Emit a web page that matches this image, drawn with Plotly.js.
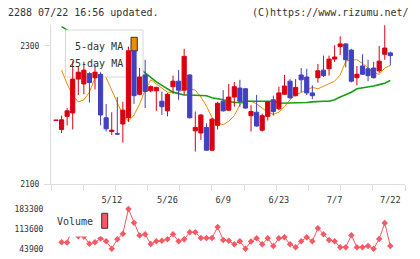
<!DOCTYPE html>
<html><head><meta charset="utf-8">
<script src="https://cdn.plot.ly/plotly-3.0.1.min.js"></script>
<style>html,body{margin:0;padding:0;background:#fff}#chart{width:420px;height:259px}</style>
</head><body><div id="chart"></div>
<script>
const dates = ['4/23','4/24','4/25','4/28','4/30','5/1','5/2','5/7','5/8','5/9','5/12','5/13','5/14','5/15','5/16','5/19','5/20','5/21','5/22','5/23','5/26','5/27','5/28','5/29','5/30','6/2','6/3','6/4','6/5','6/6','6/9','6/10','6/11','6/12','6/13','6/16','6/17','6/18','6/19','6/20','6/23','6/24','6/25','6/26','6/27','6/30','7/1','7/2','7/3','7/4','7/7','7/8','7/9','7/10','7/11','7/14','7/15','7/16','7/17','7/18','7/22'];
const openP = [2192,2179,2198,2203,2252,2245,2260,2254,2259,2196,2176,2172.8,2187,2196,2293,2230,2258,2235,2235,2220,2206,2241,2249,2236,2258,2177,2174,2182,2149,2185,2220,2207,2226,2239,2238,2199,2204,2178,2198,2222,2209,2230,2249,2228,2258,2255,2232,2254,2265,2267,2281,2299,2303,2294,2254,2271,2267,2268,2264,2288,2290];
const highP = [2192.5,2199,2210,2278,2271,2277,2262,2272,2262,2216,2204,2226,2219,2299,2294,2268,2280,2243,2241,2234,2232,2257,2265,2296,2259,2205,2201,2188,2196,2219,2236,2245,2248,2251,2239,2214,2229,2202,2220,2228,2241,2258,2252,2252,2268,2267,2243,2274,2286,2286,2301,2314,2304,2296,2271,2288,2280,2277,2300,2330,2292];
const lowP = [2192,2174,2185,2179,2229,2230,2218,2237,2185,2176,2171,2172,2160,2190,2216,2229,2210,2233,2206,2200,2198,2231,2222,2229,2195,2147,2164,2148,2148,2179,2205,2206,2212,2212,2209,2176,2183,2176,2192,2199,2207,2229,2223,2227,2233,2229,2223,2247,2255,2257,2277,2287,2269,2247,2243,2258,2249,2253,2261,2280,2272];
const closeP = [2192.5,2193,2206,2252,2262,2265,2247,2262,2200,2180,2178,2172.4,2207,2293,2228,2255,2234,2241,2240,2212,2230,2249,2236,2285,2196,2182,2200,2149,2194,2217,2206,2226,2241,2220,2210,2205,2184,2199,2219,2205,2232,2242,2225,2240,2251,2232,2228,2264,2257,2281,2284,2303,2280,2249,2259,2259,2257,2254,2278,2297,2286];
const ma5 = [null,2265,2245,2228,2219,2222,2233,2254,2262,2254,2236,2217,2200,2191,2200,2216,2236,2251,2245,2238,2233,2233,2233,2238,2238,2236,2226,2213,2196,2188,2186,2191,2199,2215,2220,2220,2216,2210,2204,2201,2204,2212,2222,2229,2233,2236,2240,2238,2242,2245,2249,2258,2278,2280,2280,2275,2268,2261,2259,2268,2272];
const ma25 = [null,2328,2323,2319,2314,2310,2306,2301,2297,2293,2288,2284,2280,2275,2271,2267,2261,2254,2248,2243,2238,2233,2231,2229,2229,2229,2229,2228,2225,2224,2222,2220,2218,2218,2220,2220,2220,2220,2220,2220,2217,2217,2217,2217,2217,2218,2219,2220,2220,2220,2222,2226,2229,2233,2238,2239,2240,2242,2244,2246,2250];
const volume = [null,66400,66000,120000,88000,87000,61100,66400,79700,70200,43900,77300,96600,183300,135200,90200,94500,60400,70200,71600,77300,94500,70200,77300,101500,101800,81500,81500,81500,120100,74400,71600,59300,70200,43900,69200,80400,59300,80400,53400,80400,84300,59300,49200,70200,84300,70200,115900,94800,74400,70200,49200,49200,91300,49200,49200,53400,43900,77900,134100,53400];
const dateTicks = ['5/12','5/26','6/9','6/23','7/7','7/22'];
const priceTicks = [2100,2300];
const volumeTicks = [43900,113600,183300];

const FONT = 'DejaVu Sans Mono, monospace';
const TXT = '#333';
const RED = '#d90010', BLUE = '#4040c0', ORANGE = '#f08c00', GREEN = '#14a014', VOLC = '#f55a64';
const W = 420, H = 259, ML = 51, MR = 15, MT = 25, MB = 7;
const PW = W - ML - MR, PH = H - MT - MB;
const idx = dates.map((d, i) => i);
const xr = [-0.897, 62.63];
const yr = [2100, 2330.4];
const vr = [32300, 214900];
const priceTop = 25, priceBot = 184, volTop = 200, volBot = 252;
const dom = (top, bot) => [(H - MB - bot) / PH, (H - MB - top) / PH];
// pixel -> axis helpers for legend decorations
const pxX = px => xr[0] + (px - ML) / PW * (xr[1] - xr[0]);
const pxY = py => yr[0] + (priceBot - py) / (priceBot - priceTop) * (yr[1] - yr[0]);
const pX = px => (px - ML) / PW;
const pY = py => (H - MB - py) / PH;

const traces = [
  {type: 'scatter', mode: 'lines', x: idx, y: ma5, xaxis: 'x', yaxis: 'y',
   line: {color: ORANGE, width: 1}, hoverinfo: 'skip'},
  {type: 'scatter', mode: 'lines', x: idx, y: ma25, xaxis: 'x', yaxis: 'y',
   line: {color: GREEN, width: 1.6}, hoverinfo: 'skip'},
  {type: 'candlestick', x: idx, open: openP, high: highP, low: lowP, close: closeP,
   xaxis: 'x2', yaxis: 'y2', whiskerwidth: 0,
   increasing: {line: {color: RED, width: 1}, fillcolor: RED},
   decreasing: {line: {color: BLUE, width: 1}, fillcolor: BLUE}},
  {type: 'scatter', mode: 'lines+markers', x: idx, y: volume, xaxis: 'x3', yaxis: 'y3',
   line: {color: VOLC, width: 1}, marker: {symbol: 'diamond', size: 5, color: VOLC},
   connectgaps: false}
];

const layout = {
  width: W, height: H, margin: {l: ML, r: MR, t: MT, b: MB},
  paper_bgcolor: '#fff', plot_bgcolor: 'rgba(0,0,0,0)', showlegend: false,
  boxgap: 0.25, boxgroupgap: 0,
  font: {family: FONT, color: TXT, size: 8},
  title: {text: '2288 07/22 16:56 updated.', xref: 'container', yref: 'container',
          x: 8 / W, xanchor: 'left', y: 1 - 12.5 / H, yanchor: 'middle',
          font: {family: FONT, size: 10, color: TXT}},
  xaxis: {domain: [0, 1], range: xr, anchor: 'y', tickmode: 'linear', tick0: xr[0],
          dtick: (xr[1] - xr[0]) / 11, ticks: 'outside', ticklen: 6, tickcolor: '#dcdcdc',
          showticklabels: false, showline: true, linecolor: '#dcdcdc', showgrid: false,
          zeroline: false, fixedrange: true},
  yaxis: {domain: dom(priceTop, priceBot), range: yr, anchor: 'x', tickvals: priceTicks,
          ticks: 'outside', ticklen: 6, tickcolor: '#dcdcdc', showline: true, linecolor: '#dcdcdc',
          showgrid: false, zeroline: false, tickfont: {family: FONT, size: 8, color: TXT},
          ticklabelstandoff: 3, fixedrange: true},
  xaxis2: {domain: [0, 1], range: xr, anchor: 'y2', tickvals: dateTicks.map(d => dates.indexOf(d)),
           ticktext: dateTicks, ticks: 'outside', ticklen: 8, tickcolor: 'rgba(0,0,0,0)',
           showline: false, showgrid: false, zeroline: false,
           tickfont: {family: FONT, size: 8.6, color: TXT}, rangeslider: {visible: false},
           fixedrange: true},
  yaxis2: {domain: dom(priceTop, priceBot), range: yr, anchor: 'x2', visible: false, fixedrange: true},
  xaxis3: {domain: [0, 1], range: xr, anchor: 'y3', visible: false, fixedrange: true},
  yaxis3: {domain: dom(volTop, volBot), range: vr, anchor: 'x3', tickvals: volumeTicks,
           ticktext: volumeTicks.map(String),
           ticks: 'outside', ticklen: 5, tickcolor: 'rgba(0,0,0,0)', showline: false,
           showgrid: false, zeroline: false, tickfont: {family: FONT, size: 8, color: TXT},
           fixedrange: true},
  shapes: [
    {type: 'rect', xref: 'x2', yref: 'y2', layer: 'below',
     x0: pxX(65.5), x1: pxX(143), y0: pxY(77), y1: pxY(30),
     fillcolor: '#fff', line: {color: '#d8d8d8', width: 1}},
    {type: 'rect', xref: 'x2', yref: 'y2', layer: 'below',
     x0: pxX(131), x1: pxX(137.3), y0: pxY(51), y1: pxY(37.3),
     fillcolor: ORANGE, line: {color: '#333', width: 1}},
    {type: 'rect', xref: 'paper', yref: 'paper', layer: 'above',
     x0: pX(53), x1: pX(113), y0: pY(236.5), y1: pY(206),
     fillcolor: '#fff', line: {width: 0}},
    {type: 'rect', xref: 'paper', yref: 'paper', layer: 'above',
     x0: pX(101.7), x1: pX(107.7), y0: pY(228.3), y1: pY(213.3),
     fillcolor: VOLC, line: {color: '#333', width: 1}}
  ],
  annotations: [
    {text: '(C)https://www.rizumu.net/', xref: 'paper', yref: 'paper', x: pX(411), y: pY(12.5),
     xanchor: 'right', yanchor: 'middle', showarrow: false, font: {family: FONT, size: 10, color: TXT}},
    {text: '5-day MA', xref: 'paper', yref: 'paper', x: pX(125), y: pY(46),
     xanchor: 'right', yanchor: 'middle', showarrow: false, font: {family: FONT, size: 10, color: TXT}},
    {text: '25-day MA', xref: 'paper', yref: 'paper', x: pX(125), y: pY(63.3),
     xanchor: 'right', yanchor: 'middle', showarrow: false, font: {family: FONT, size: 10, color: TXT}},
    {text: 'Volume', xref: 'paper', yref: 'paper', x: pX(95), y: pY(221.7),
     xanchor: 'right', yanchor: 'middle', showarrow: false, font: {family: FONT, size: 10, color: TXT}}
  ]
};

Plotly.newPlot('chart', traces, layout, {staticPlot: true, displayModeBar: false});
</script></body></html>
